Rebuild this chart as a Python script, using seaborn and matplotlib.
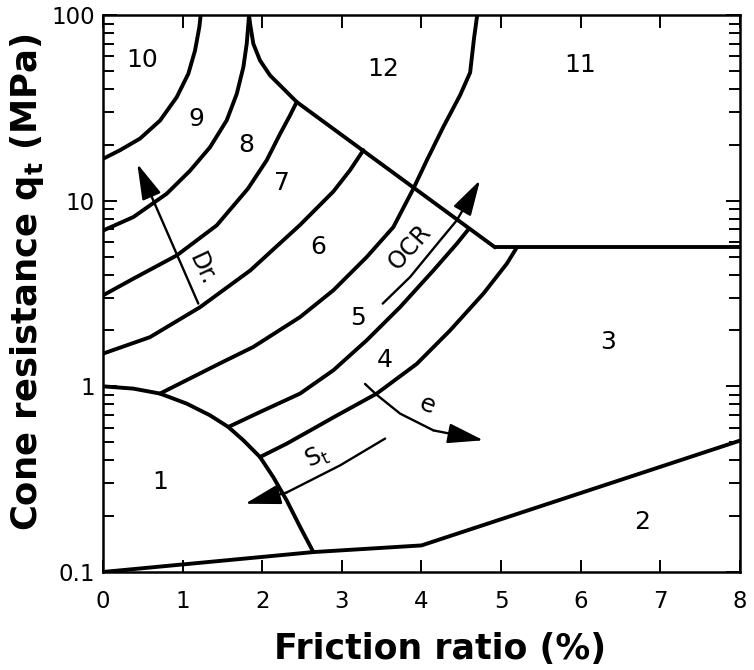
import numpy as np
import pandas as pd
import seaborn as sns
import matplotlib.pyplot as plt
from matplotlib.ticker import LogLocator, NullFormatter

# zone boundaries (friction ratio %, cone resistance MPa)
zone1_x = [0, 0.381, 0.716, 1.051, 1.344, 1.574, 1.763, 1.972, 2.139, 2.307, 2.475, 2.642]
zone1_q = [1.0, 0.972, 0.914, 0.807, 0.698, 0.604, 0.512, 0.416, 0.324, 0.243, 0.175, 0.128]

zone2_x = [0, 2.642, 4.0, 8.0]
zone2_q = [0.1, 0.128, 0.139, 0.51]

zone3_top_x = [4.925, 8.0]
zone3_top_q = [5.6, 5.6]

zone12_x = [1.834, 1.847, 1.888, 1.972, 2.098, 2.224, 2.433, 4.925]
zone12_q = [100, 89.8, 70, 56.9, 47.3, 41.8, 34.0, 5.6]

b10_9_x = [0, 0.214, 0.465, 0.716, 0.926, 1.072, 1.156, 1.21, 1.227]
b10_9_q = [16.8, 18.7, 21.6, 27.0, 36.1, 48.3, 64.4, 86.1, 100]

b9_8_x = [0, 0.381, 0.80, 1.093, 1.344, 1.554, 1.68, 1.763, 1.805, 1.826, 1.834]
b9_8_q = [6.9, 8.16, 10.9, 14.5, 19.4, 27.1, 37.6, 52.4, 70, 89.8, 100]

b8_7_x = [0, 0.381, 0.926, 1.428, 1.82, 2.056, 2.224, 2.349, 2.433]
b8_7_q = [3.09, 3.80, 5.07, 7.36, 11.6, 16.5, 22.9, 28.8, 34.0]

b7_6_x = [0, 0.59, 1.22, 1.85, 2.475, 2.893, 3.103, 3.27]
b7_6_q = [1.5, 1.84, 2.67, 4.21, 7.4, 11.2, 14.6, 18.7]

b6_5_x = [0.716, 1.051, 1.47, 1.888, 2.475, 2.893, 3.312, 3.647, 3.898,
          4.067, 4.275, 4.485, 4.611, 4.66, 4.70]
b6_5_q = [0.914, 1.08, 1.33, 1.63, 2.36, 3.29, 4.97, 7.21, 11.6,
          16.5, 25.0, 37.0, 49, 75, 100]

b5_4_x = [1.574, 1.972, 2.475, 2.893, 3.312, 3.731, 4.15, 4.443, 4.589]
b5_4_q = [0.604, 0.727, 0.914, 1.22, 1.77, 2.67, 4.21, 5.86, 7.0]

b4_3_x = [1.972, 2.307, 2.642, 2.893, 3.438, 3.94, 4.359, 4.778, 5.072, 5.198]
b4_3_q = [0.416, 0.491, 0.591, 0.68, 0.914, 1.32, 2.0, 3.16, 4.58, 5.6]

# trend arrows (tail -> tip)
dr_x = [1.197, 0.431]
dr_q = [2.79, 15.8]
ocr_x = [3.513, 3.857, 4.234, 4.443, 4.736]
ocr_q = [2.79, 3.88, 6.11, 7.83, 12.9]
e_x = [3.291, 3.438, 3.731, 4.15, 4.778]
e_q = [1.03, 0.90, 0.713, 0.579, 0.512]
st_x = [3.543, 2.977, 2.307, 1.784]
st_q = [0.523, 0.375, 0.268, 0.233]

zone_labels = ['1', '2', '3', '4', '5', '6', '7', '8', '9', '10', '11', '12']
zone_lab_x = [0.716, 6.77, 6.34, 3.543, 3.2, 2.70, 2.245, 1.805, 1.177, 0.486, 5.99, 3.52]
zone_lab_q = [0.305, 0.186, 1.73, 1.38, 2.32, 5.6, 12.4, 19.9, 27.7, 57, 53.5, 51.4]

boundaries = {
    'zone1': (zone1_x, zone1_q), 'zone2': (zone2_x, zone2_q),
    'zone3': (zone3_top_x, zone3_top_q), 'zone12': (zone12_x, zone12_q),
    '10/9': (b10_9_x, b10_9_q), '9/8': (b9_8_x, b9_8_q),
    '8/7': (b8_7_x, b8_7_q), '7/6': (b7_6_x, b7_6_q),
    '6/5': (b6_5_x, b6_5_q), '5/4': (b5_4_x, b5_4_q),
    '4/3': (b4_3_x, b4_3_q),
}
df = pd.concat([pd.DataFrame({'x': x, 'q': q, 'line': name})
                for name, (x, q) in boundaries.items()], ignore_index=True)

sns.set_theme(style='ticks')
plt.rcParams['font.family'] = ['DejaVu Sans']
plt.rcParams.update({'text.color': 'black', 'axes.labelcolor': 'black',
                     'xtick.color': 'black', 'ytick.color': 'black'})

fig = plt.figure(figsize=(7.54, 6.70), dpi=100)
ax = fig.add_axes([0.1366, 0.1463, 0.8448, 0.8313])

sns.lineplot(data=df, x='x', y='q', units='line', estimator=None, sort=False,
             color='black', linewidth=2.8, ax=ax, legend=False)

def arrow(xs, qs):
    ax.plot(xs[:-1], qs[:-1], color='black', lw=1.7)
    ax.annotate('', xy=(xs[-1], qs[-1]), xytext=(xs[-2], qs[-2]),
                arrowprops=dict(arrowstyle='-|>,head_length=1.0,head_width=0.28',
                                mutation_scale=22, color='black', lw=1.7,
                                shrinkA=0, shrinkB=0))

for xs, qs in [(dr_x, dr_q), (ocr_x, ocr_q), (e_x, e_q), (st_x, st_q)]:
    arrow(xs, qs)

ax.text(1.24, 4.3, 'Dr.', fontsize=17, rotation=-65, ha='center', va='center')
ax.text(3.857, 5.62, 'OCR', fontsize=17, rotation=48, ha='center', va='center')
ax.text(4.067, 0.79, 'e', fontsize=18, rotation=-20, ha='center', va='center')
ax.text(2.685, 0.416, 'S$_\\mathregular{t}$', fontsize=17, rotation=25,
        ha='center', va='center')

for lab, x, q in zip(zone_labels, zone_lab_x, zone_lab_q):
    ax.text(x, q, lab, fontsize=18, ha='center', va='center')

ax.set_yscale('log')
ax.set_xlim(0, 8)
ax.set_ylim(0.1, 100)
ax.set_xticks(range(9))
ax.set_yticks([0.1, 1, 10, 100])
ax.set_yticklabels(['0.1', '1', '10', '100'])
ax.yaxis.set_minor_locator(LogLocator(base=10, subs=range(2, 10)))
ax.yaxis.set_minor_formatter(NullFormatter())
ax.tick_params(axis='x', which='major', direction='in', top=True, length=9,
               width=1.4, labelsize=16.5, pad=13)
ax.tick_params(axis='y', which='major', direction='in', right=True, length=10,
               width=1.4, labelsize=16.5, pad=6)
ax.tick_params(axis='y', which='minor', direction='in', right=True, length=8,
               width=1.4)
for s in ax.spines.values():
    s.set_linewidth(1.8)
    s.set_color('black')

ax.set_xlabel('Friction ratio (%)', fontsize=25, fontweight='bold')
ax.set_ylabel('Cone resistance $\\mathbf{q_t}$ (MPa)', fontsize=25.5,
              fontweight='bold')
ax.xaxis.set_label_coords(0.529, -0.108)
ax.yaxis.set_label_coords(-0.09, 0.52)

fig.savefig('out.png', dpi=100, facecolor='white')
